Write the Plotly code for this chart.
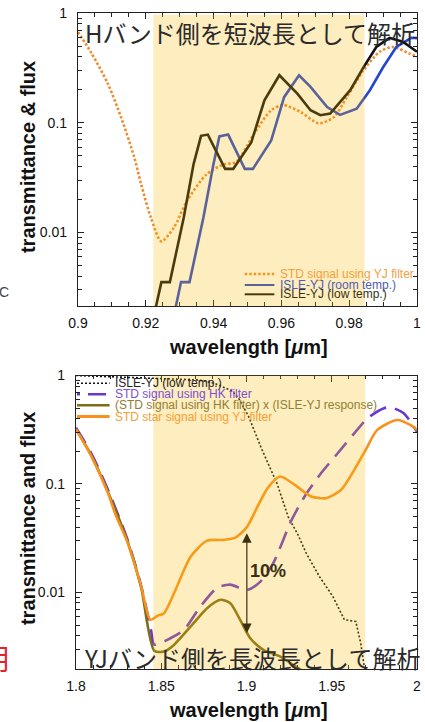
import numpy as np
import plotly.graph_objects as go

# ---------------- data: upper panel (YJ band side) ----------------
top_std_yj_x = [0.900, 0.904, 0.9088, 0.9127, 0.9166, 0.9186, 0.9215, 0.9246, 0.9283, 0.9322,
                0.938, 0.9429, 0.9467, 0.952, 0.957, 0.9605, 0.9657, 0.971, 0.9754, 0.9793,
                0.9842, 0.989, 0.9929, 0.9977, 1.0]
top_std_yj_y = [0.67, 0.43, 0.227, 0.112, 0.0485, 0.0277, 0.0137, 0.0083, 0.0111, 0.0195,
                0.034, 0.0416, 0.044, 0.08, 0.13, 0.145, 0.125, 0.099, 0.112, 0.171,
                0.30, 0.443, 0.49, 0.428, 0.40]

top_room_x = [0.9274, 0.9304, 0.9329, 0.937, 0.9399, 0.9417, 0.9443, 0.9492, 0.9516, 0.957,
              0.9608, 0.9652, 0.9686, 0.9735, 0.9773, 0.9822, 0.9861, 0.990, 0.9939, 0.9983, 1.0]
top_room_y = [0.0013, 0.00353, 0.00353, 0.0137, 0.041, 0.075, 0.078, 0.038, 0.038, 0.069,
              0.171, 0.271, 0.212, 0.139, 0.118, 0.134, 0.198, 0.32, 0.49, 0.594, 0.59]

top_low_x = [0.9215, 0.9246, 0.9271, 0.9312, 0.9341, 0.9363, 0.9383, 0.9434, 0.9458, 0.9511,
             0.955, 0.9594, 0.9647, 0.9686, 0.9715, 0.9744, 0.9803, 0.9842, 0.988, 0.9919,
             0.9958, 1.0]
top_low_y = [0.0013, 0.00353, 0.00353, 0.0137, 0.042, 0.076, 0.078, 0.038, 0.038, 0.066,
             0.16, 0.271, 0.184, 0.13, 0.117, 0.121, 0.198, 0.32, 0.49, 0.594,
             0.547, 0.443]

top_band = [0.9222, 0.9845]

# ---------------- data: lower panel (H band side) ----------------
bot_low_x = [1.8, 1.83, 1.86, 1.872, 1.8818, 1.8915, 1.8953, 1.9012, 1.9089, 1.918,
             1.9244, 1.9302, 1.935, 1.9428, 1.9506, 1.9574, 1.9641, 1.967, 1.969, 1.971]
bot_low_y = [1.0, 0.96, 0.93, 0.91, 0.84, 0.72, 0.62, 0.42, 0.21, 0.10,
             0.05, 0.034, 0.023, 0.014, 0.0092, 0.0056, 0.0054, 0.0034, 0.0021, 0.0016]

bot_hk_x = [1.8, 1.8091, 1.8188, 1.8304, 1.8382, 1.844, 1.8459, 1.8556, 1.8634, 1.873,
            1.8827, 1.8905, 1.9002, 1.908, 1.9157, 1.9263, 1.9341, 1.9438, 1.9535, 1.9632,
            1.9709, 1.9806, 1.9845, 1.9922, 2.0]
bot_hk_y = [0.33, 0.19, 0.088, 0.030, 0.0115, 0.0045, 0.0033, 0.0038, 0.00453, 0.00743,
            0.011, 0.0118, 0.0105, 0.0125, 0.0186, 0.046, 0.0766, 0.126, 0.192, 0.293,
            0.403, 0.499, 0.509, 0.449, 0.303]

bot_prod_x = [1.8, 1.8091, 1.8188, 1.8304, 1.8382, 1.8459, 1.8517, 1.8576, 1.8673, 1.8769,
              1.8847, 1.8905, 1.8963, 1.9021, 1.9099, 1.9196, 1.9273, 1.935]
bot_prod_y = [0.32, 0.182, 0.084, 0.029, 0.0112, 0.0029, 0.00285, 0.0033, 0.00486, 0.00716,
              0.00855, 0.00795, 0.00558, 0.0038, 0.00296, 0.00257, 0.00215, 0.0018]

bot_star_x = [1.8, 1.8091, 1.8188, 1.8232, 1.8304, 1.8382, 1.8436, 1.8479, 1.8515, 1.8576,
              1.8673, 1.8769, 1.8866, 1.8935, 1.9002, 1.9065, 1.9125, 1.9196, 1.9283, 1.938,
              1.9467, 1.9554, 1.9632, 1.9699, 1.9767, 1.9884, 1.9961, 2.0]
bot_star_y = [0.32, 0.179, 0.082, 0.052, 0.0285, 0.0114, 0.0056, 0.0061, 0.0064, 0.0099,
              0.0214, 0.030, 0.0305, 0.032, 0.040, 0.062, 0.092, 0.117, 0.098, 0.0766,
              0.074, 0.088, 0.135, 0.206, 0.315, 0.389, 0.35, 0.315]

bot_band = [1.8453, 1.9696]
arrow_x = 1.9002
arrow_y = [0.0363, 0.00422]
pct_label = "10%"
pct_pos = [1.9128, 0.0156]

top_xticks = [0.9, 0.92, 0.94, 0.96, 0.98, 1.0]
top_xticktext = ["0.9", "0.92", "0.94", "0.96", "0.98", "1"]
bot_xticks = [1.8, 1.85, 1.9, 1.95, 2.0]
bot_xticktext = ["1.8", "1.85", "1.9", "1.95", "2"]
yticks = [0.01, 0.1, 1]
ytick_text = ["0.01", "0.1", "1"]
yminor = [0.002, 0.003, 0.004, 0.005, 0.006, 0.007, 0.008, 0.009,
          0.02, 0.03, 0.04, 0.05, 0.06, 0.07, 0.08, 0.09,
          0.2, 0.3, 0.4, 0.5, 0.6, 0.7, 0.8, 0.9]

top_legend = ["STD signal using YJ filter", "ISLE-YJ (room temp.)", "ISLE-YJ (low temp.)"]
bot_legend = ["ISLE-YJ (low temp.)", "STD signal using HK filter",
              "(STD signal using HK filter) x (ISLE-YJ response)", "STD star signal using YJ filter"]
title_top = "Hバンド側を短波長として解析"
title_bot = "YJバンド側を長波長として解析"
xlabel = "wavelength [<i>μ</i>m]"
ylabel_top = "transmittance & flux"
ylabel_bot = "transmittance and flux"

# ---------------- styling ----------------
W, H = 425, 722
ML, MR, MT, MB = 76, 4, 13, 53
PW, PH = W - ML - MR, H - MT - MB


def px(x):
    return (x - ML) / PW


def py(y):
    return (H - MB - y) / PH


FONT = "Liberation Sans, Arial, sans-serif"
C_ORANGE_DOT = "#f08a2c"
C_BLUE = "#2446d0"
C_BLACK = "#111111"
C_PURPLE = "#6a38d0"
C_OLIVE = "#7d6c18"
C_ORANGE = "#f7921e"
SHADE = "rgba(252,184,0,0.25)"

fig = go.Figure()

# upper panel traces
fig.add_trace(go.Scatter(x=top_std_yj_x, y=top_std_yj_y, mode="lines", xaxis="x", yaxis="y",
                         line=dict(color=C_ORANGE_DOT, width=2.6, dash="2.5px,2px", shape="spline",
                                   smoothing=0.8),
                         showlegend=False, name=top_legend[0]))
fig.add_trace(go.Scatter(x=top_room_x, y=top_room_y, mode="lines", xaxis="x", yaxis="y",
                         line=dict(color=C_BLUE, width=2.6), showlegend=False, name=top_legend[1]))
fig.add_trace(go.Scatter(x=top_low_x, y=top_low_y, mode="lines", xaxis="x", yaxis="y",
                         line=dict(color=C_BLACK, width=2.6), showlegend=False, name=top_legend[2]))

# lower panel traces
fig.add_trace(go.Scatter(x=bot_low_x, y=bot_low_y, mode="lines", xaxis="x2", yaxis="y2",
                         line=dict(color=C_BLACK, width=1.6, dash="2px,2px"),
                         showlegend=False, name=bot_legend[0]))
fig.add_trace(go.Scatter(x=bot_hk_x, y=bot_hk_y, mode="lines", xaxis="x2", yaxis="y2",
                         line=dict(color=C_PURPLE, width=2.6, dash="18px,9px", shape="spline",
                                   smoothing=0.7),
                         showlegend=False, name=bot_legend[1]))
fig.add_trace(go.Scatter(x=bot_prod_x, y=bot_prod_y, mode="lines", xaxis="x2", yaxis="y2",
                         line=dict(color=C_OLIVE, width=2.6, shape="spline", smoothing=0.7),
                         showlegend=False, name=bot_legend[2]))
fig.add_trace(go.Scatter(x=bot_star_x, y=bot_star_y, mode="lines", xaxis="x2", yaxis="y2",
                         line=dict(color=C_ORANGE, width=2.6, shape="spline", smoothing=0.7),
                         showlegend=False, name=bot_legend[3]))

axis_common = dict(showline=True, linecolor="#222", linewidth=1.2, mirror="allticks",
                   ticks="inside", ticklen=6, tickwidth=1, tickcolor="#222",
                   showgrid=False, zeroline=False,
                   tickfont=dict(family=FONT, size=14, color="#111"))

fig.update_layout(
    width=W, height=H, margin=dict(l=ML, r=MR, t=MT, b=MB),
    paper_bgcolor="white", plot_bgcolor="white", showlegend=False,
    xaxis=dict(domain=[px(78), 1.0], range=[0.9, 1.0], anchor="y",
               tickvals=top_xticks, ticktext=top_xticktext, ticklabelstandoff=4,
               ticklabeloverflow="allow",
               minor=dict(ticks="inside", dtick=0.005, tick0=0.9, ticklen=3.5, tickcolor="#222"),
               **axis_common),
    yaxis=dict(domain=[py(306), 1.0], type="log", range=[-2.67, 0], anchor="x",
               tickvals=yticks, ticktext=ytick_text, ticklabelstandoff=7,
               minor=dict(ticks="inside", tickvals=yminor, ticklen=3.5, tickcolor="#222"),
               **axis_common),
    xaxis2=dict(domain=[0, 1.0], range=[1.8, 2.0], anchor="y2",
                tickvals=bot_xticks, ticktext=bot_xticktext, ticklabelstandoff=4,
                ticklabeloverflow="allow",
                minor=dict(ticks="inside", dtick=0.01, tick0=1.8, ticklen=3.5, tickcolor="#222"),
                **axis_common),
    yaxis2=dict(domain=[0, py(375.5)], type="log", range=[-2.706, 0], anchor="x2",
                tickvals=yticks, ticktext=ytick_text, ticklabelstandoff=7,
                minor=dict(ticks="inside", tickvals=yminor, ticklen=3.5, tickcolor="#222"),
                **axis_common),
)

shapes = []
# legend samples (upper) drawn beneath the band overlay
top_rows = [274, 285, 294.3]
top_styles = [dict(color=C_ORANGE_DOT, width=2.4, dash="2.5px,2px"),
              dict(color=C_BLUE, width=2), dict(color=C_BLACK, width=2)]
for r, st in zip(top_rows, top_styles):
    shapes.append(dict(type="line", xref="paper", yref="paper", x0=px(246.7), x1=px(276.7),
                       y0=py(r), y1=py(r), line=st, layer="above"))

# band overlays
shapes.append(dict(type="rect", xref="x", yref="y domain", x0=top_band[0], x1=top_band[1],
                   y0=0, y1=0.994, fillcolor=SHADE, line=dict(width=0), layer="above"))
shapes.append(dict(type="rect", xref="x2", yref="y2 domain", x0=bot_band[0], x1=bot_band[1],
                   y0=0, y1=1, fillcolor=SHADE, line=dict(width=0), layer="above"))

bot_rows = [383.3, 394.3, 405.3, 416.5]
bot_styles = [dict(color=C_BLACK, width=1.6, dash="2px,2px"),
              dict(color=C_PURPLE, width=2.4, dash="3px,8px,18px,8px"),
              dict(color=C_OLIVE, width=2.4), dict(color=C_ORANGE, width=2.8)]
for r, st in zip(bot_rows, bot_styles):
    shapes.append(dict(type="line", xref="paper", yref="paper", x0=px(77), x1=px(110),
                       y0=py(r), y1=py(r), line=st, layer="above"))

fig.update_layout(shapes=shapes)

ann = []
top_text_colors = ["#f2a040", "#4f5cae", "#3a3212"]
for r, t, c in zip(top_rows, top_legend, top_text_colors):
    ann.append(dict(xref="paper", yref="paper", x=px(280.5), y=py(r), text=t, showarrow=False,
                    xanchor="left", yanchor="middle", font=dict(family=FONT, size=12, color=c)))
bot_text_colors = ["#222222", "#7b50d2", "#908032", "#f7a033"]
for r, t, c in zip(bot_rows, bot_legend, bot_text_colors):
    ann.append(dict(xref="paper", yref="paper", x=px(113), y=py(r), text=t, showarrow=False,
                    xanchor="left", yanchor="middle", font=dict(family=FONT, size=12, color=c)))

# 10% arrow and label
ann.append(dict(xref="x2", yref="y2", axref="x2", ayref="y2",
                x=arrow_x, y=np.log10(arrow_y[1]), ax=arrow_x, ay=np.log10(arrow_y[0]),
                text="", showarrow=True, arrowside="end+start", arrowhead=2, arrowsize=1.6,
                arrowwidth=1.2, arrowcolor="#3a3010", standoff=0, startstandoff=0))
ann.append(dict(xref="x2", yref="y2", x=pct_pos[0], y=np.log10(pct_pos[1]), text="<b>%s</b>" % pct_label,
                showarrow=False, font=dict(family=FONT, size=18, color="#3a3010")))

# Japanese panel captions
ann.append(dict(xref="paper", yref="paper", x=px(252.5), y=py(32.5), text=title_top, showarrow=False,
                xanchor="center", yanchor="middle",
                font=dict(family="Noto Sans CJK JP", size=24, color="#2a2a2a")))
ann.append(dict(xref="paper", yref="paper", x=px(254.5), y=py(657), text=title_bot, showarrow=False,
                xanchor="center", yanchor="middle",
                font=dict(family="Noto Sans CJK JP", size=24, color="#2a2a2a")))

# axis titles
for yy in (346.7, 710):
    ann.append(dict(xref="paper", yref="paper", x=px(251), y=py(yy), text="<b>%s</b>" % xlabel,
                    showarrow=False, xanchor="center", yanchor="middle",
                    font=dict(family=FONT, size=20, color="#111")))
ann.append(dict(xref="paper", yref="paper", x=px(27.5), y=py(157), text="<b>%s</b>" % ylabel_top,
                showarrow=False, textangle=-90, xanchor="center", yanchor="middle",
                font=dict(family=FONT, size=20, color="#111")))
ann.append(dict(xref="paper", yref="paper", x=px(27.5), y=py(519), text="<b>%s</b>" % ylabel_bot,
                showarrow=False, textangle=-90, xanchor="center", yanchor="middle",
                font=dict(family=FONT, size=20, color="#111")))

# cropped fragments at the left edge
ann.append(dict(xref="paper", yref="paper", x=px(10), y=py(292), text="C", showarrow=False,
                xanchor="right", yanchor="middle", font=dict(family=FONT, size=14, color="#444")))
ann.append(dict(xref="paper", yref="paper", x=px(10), y=py(658), text="明", showarrow=False,
                xanchor="right", yanchor="middle",
                font=dict(family="Noto Sans CJK JP", size=28, color="#e8202a")))

fig.update_layout(annotations=ann)

fig.write_html("out.html")
